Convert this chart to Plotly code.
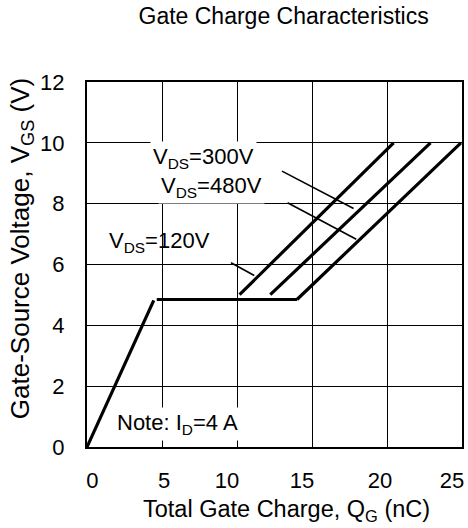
import plotly.graph_objects as go

# ---- data (nC, V) ----
ramp_q = [0, 4.45]
ramp_v = [0, 4.82]
plateau_q = [4.65, 14.0]
plateau_v = [4.85, 4.85]
vds120_q = [10.17, 20.44]
vds120_v = [5.01, 10.0]
vds300_q = [12.22, 22.9]
vds300_v = [5.01, 10.0]
vds480_q = [14.0, 24.93]
vds480_v = [4.85, 10.0]

# leader lines for labels
lead120_q = [9.6, 11.15]
lead120_v = [6.06, 5.64]
lead300_q = [13.0, 17.77]
lead300_v = [9.07, 7.84]
lead480_q = [13.37, 17.95]
lead480_v = [8.03, 6.83]

x_ticks = [0, 5, 10, 15, 20, 25]
x_labels = ["&nbsp;&nbsp;&nbsp;&nbsp;&nbsp;0", "&nbsp;&nbsp;&nbsp;&nbsp;5", "10", "15",
            "&nbsp;20", "25"]
y_ticks = [0, 2, 4, 6, 8, 10, 12]
y_labels = ["0", "2", "4", "6", "8", "10", "12"]

FONT = "Arial, Liberation Sans, sans-serif"

fig = go.Figure()
line_style = dict(color="black", width=3.2)
for q, v in [(ramp_q, ramp_v), (plateau_q, plateau_v), (vds120_q, vds120_v),
             (vds300_q, vds300_v), (vds480_q, vds480_v)]:
    fig.add_trace(go.Scatter(x=q, y=v, mode="lines", line=line_style,
                             showlegend=False, hoverinfo="skip"))
for q, v in [(lead120_q, lead120_v), (lead300_q, lead300_v), (lead480_q, lead480_v)]:
    fig.add_trace(go.Scatter(x=q, y=v, mode="lines",
                             line=dict(color="black", width=1.6),
                             showlegend=False, hoverinfo="skip"))

ann_font = dict(family=FONT, size=22, color="black")
annotations = [
    dict(x=7.77, y=9.49, text="V<sub>DS</sub>=300V", bgcolor="white", borderpad=2),
    dict(x=8.27, y=8.55, text="V<sub>DS</sub>=480V", bgcolor="white", borderpad=2),
    dict(x=4.83, y=6.74, text="V<sub>DS</sub>=120V"),
    dict(x=6.0, y=0.77, text="Note: I<sub>D</sub>=4 A", bgcolor="white", borderpad=2),
]
for a in annotations:
    a.update(xref="x", yref="y", showarrow=False, font=ann_font)

# axis titles placed as paper annotations (reference is slightly off-centre)
annotations.append(dict(
    xref="paper", yref="paper", x=0.5325, y=-0.175, xanchor="center", yanchor="middle",
    text="Total Gate Charge, Q<sub>G</sub> (nC)", showarrow=False,
    font=dict(family=FONT, size=23.5, color="black")))
annotations.append(dict(
    xref="paper", yref="paper", x=-0.176, y=0.542, xanchor="center", yanchor="middle",
    text="Gate-Source Voltage, V<sub>GS</sub> (V)", textangle=-90, showarrow=False,
    font=dict(family=FONT, size=26, color="black")))

fig.update_layout(
    width=468, height=528,
    margin=dict(l=87, r=6, t=82, b=81, autoexpand=False),
    paper_bgcolor="white", plot_bgcolor="white",
    font=dict(family=FONT, color="black"),
    title=dict(text="Gate Charge Characteristics", x=0.606, xanchor="center",
               y=0.985, yanchor="top", font=dict(family=FONT, size=23, color="black")),
    annotations=annotations,
)
fig.update_xaxes(
    range=[0, 25], tickvals=x_ticks, ticktext=x_labels,
    showgrid=True, gridcolor="black", gridwidth=1,
    showline=True, linecolor="black", linewidth=2, mirror=True,
    ticks="", ticklabelstandoff=13, ticklabelshift=-10, zeroline=False,
    ticklabeloverflow="allow", automargin=False,
    tickfont=dict(family=FONT, size=22, color="black"),
)
fig.update_yaxes(
    range=[0, 12], tickvals=y_ticks, ticktext=y_labels,
    showgrid=True, gridcolor="black", gridwidth=1,
    showline=True, linecolor="black", linewidth=2, mirror=True,
    ticks="", ticklabelstandoff=16, zeroline=False, automargin=False,
    tickfont=dict(family=FONT, size=22, color="black"),
)

fig.write_html("out.html")
